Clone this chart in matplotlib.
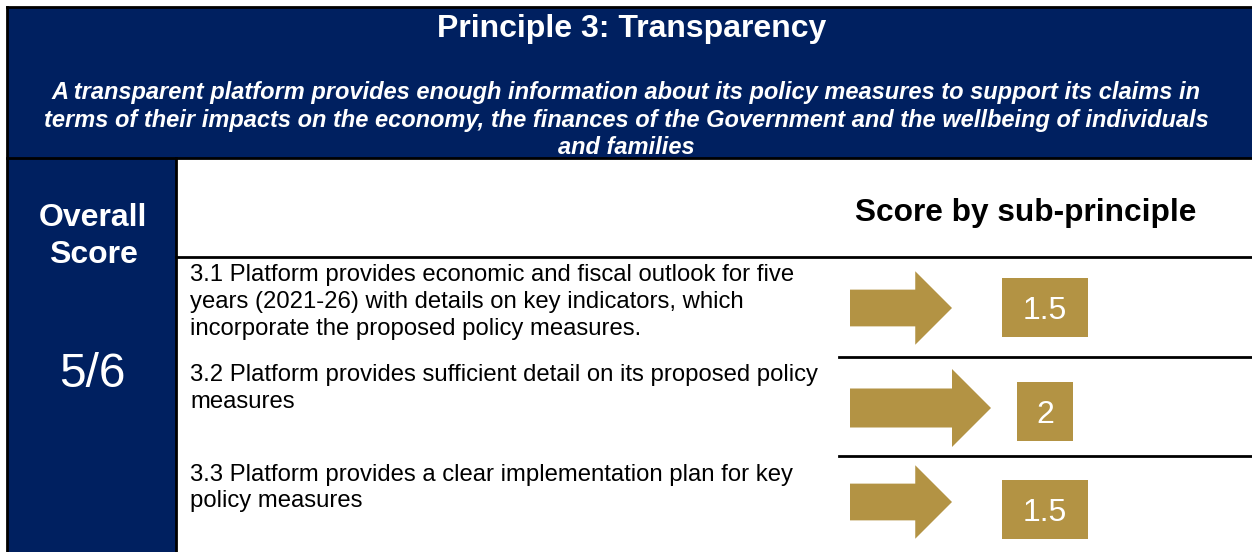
import matplotlib
matplotlib.use('Agg')
import matplotlib.pyplot as plt
from matplotlib.patches import Rectangle, FancyArrow

## Data ##
title = 'Principle 3: Transparency'
subtitle_lines = [
    'A transparent platform provides enough information about its policy measures to support its claims in',
    'terms of their impacts on the economy, the finances of the Government and the wellbeing of individuals',
    'and families',
]
overall_score = '5/6'
sub_principles = [
    ['3.1 Platform provides economic and fiscal outlook for five',
     'years (2021-26) with details on key indicators, which',
     'incorporate the proposed policy measures.'],
    ['3.2 Platform provides sufficient detail on its proposed policy',
     'measures'],
    ['3.3 Platform provides a clear implementation plan for key',
     'policy measures'],
]
scores = [1.5, 2, 1.5]
score_labels = ['1.5', '2', '1.5']

## Style ##
navy = '#002060'
gold = '#B39344'
plt.rcParams['font.family'] = ['Liberation Sans', 'DejaVu Sans']

W, H = 1252, 552
fig = plt.figure(figsize=(W / 100, H / 100), dpi=100)
ax = fig.add_axes([0, 0, 1, 1])
ax.set_xlim(0, W)
ax.set_ylim(H, 0)
ax.axis('off')

#Layout (pixel units)
left, top = 7, 7
banner_bottom = 158
col_right = 176
header_bottom = 257
row_tops = [257, 357, 456]
score_col_left = 839
arrow_centres = [308, 408, 502]
box_centres = [307, 411, 509]

#Navy blocks
ax.add_patch(Rectangle((left, top), W - left, banner_bottom - top, fc=navy, ec='none'))
ax.add_patch(Rectangle((left, banner_bottom), col_right - left, H - banner_bottom, fc=navy, ec='none'))

#Border lines
lw = 2
ax.plot([left, W], [top, top], color='black', lw=lw)
ax.plot([left, left], [top, H], color='black', lw=lw)
ax.plot([left, W], [banner_bottom, banner_bottom], color='black', lw=lw)
ax.plot([col_right, col_right], [banner_bottom, H], color='black', lw=lw)
ax.plot([col_right, W], [header_bottom, header_bottom], color='black', lw=lw)
for y in row_tops[1:]:
    ax.plot([score_col_left, W], [y, y], color='black', lw=lw)

#Header text (baseline aligned)
ax.text(632, 37, title, color='white', fontsize=23, fontweight='bold', ha='center', va='baseline')
for i, y in enumerate([99, 127, 154]):
    ax.text(626, y, subtitle_lines[i], color='white', fontsize=17, fontweight='bold',
            style='italic', ha='center', va='baseline')

ax.text(93, 226, 'Overall', color='white', fontsize=23, fontweight='bold', ha='center', va='baseline')
ax.text(93, 263, 'Score', color='white', fontsize=23, fontweight='bold', ha='center', va='baseline')
ax.text(92, 387, overall_score, color='white', fontsize=34.5, ha='center', va='baseline')

ax.text(1026, 221, 'Score by sub-principle', color='black', fontsize=22.8, fontweight='bold',
        ha='center', va='baseline')

#Rows
for i, lines in enumerate(sub_principles):
    y0 = row_tops[i] + 24.5
    for j, line in enumerate(lines):
        ax.text(190, y0 + j * 26.8, line, color='black', fontsize=17.2, ha='left', va='baseline')

    s = scores[i]
    yc = arrow_centres[i]
    length = 78 * s - 15
    shaft = 30 + 4.5 * s
    ax.add_patch(FancyArrow(850, yc, length, 0, width=shaft, head_width=2 * shaft,
                            head_length=shaft, length_includes_head=True,
                            fc=gold, ec='none'))

    label = score_labels[i]
    bw = 41 + 15 * len(label)
    bh = 59
    bx = 1045 - bw / 2
    by = box_centres[i] - bh / 2
    ax.add_patch(Rectangle((bx, by), bw, bh, fc=gold, ec='none'))
    ax.text(bx + bw / 2, box_centres[i] + 12, label, color='white', fontsize=23,
            ha='center', va='baseline')

fig.savefig('out.png', dpi=100)
